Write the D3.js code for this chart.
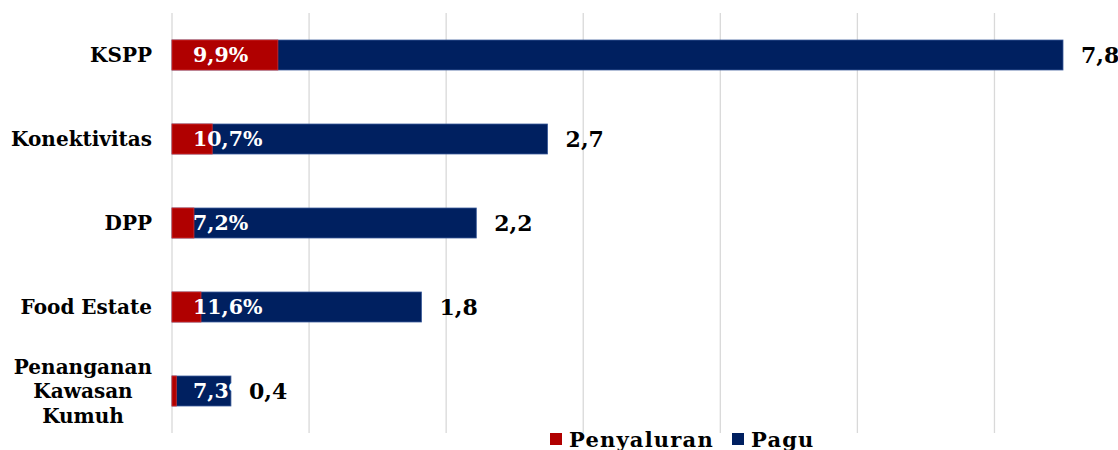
<!DOCTYPE html>
<html>
<head>
<meta charset="utf-8">
<script src="https://cdn.jsdelivr.net/npm/d3@7"></script>
<style>
  html, body { margin: 0; padding: 0; background: #fff; }
  svg { display: block; }
  text { font-family: Georgia, "DejaVu Serif", "Liberation Serif", serif; font-weight: bold; }
</style>
</head>
<body>
<svg id="chart" width="1118" height="450"></svg>
<script>
// Program names (lines of each label), total budget (Pagu, triliun) and disbursement share (%)
const categories = ["KSPP", "Konektivitas", "DPP", "Food Estate", "Penanganan Kawasan Kumuh"];
const labelLines = [["KSPP"], ["Konektivitas"], ["DPP"], ["Food Estate"], ["Penanganan", "Kawasan", "Kumuh"]];
const pagu = [7.8, 2.74, 2.22, 1.82, 0.43];
const penyaluranPct = [9.9, 10.7, 7.2, 11.6, 7.3];
const xTicks = [0, 1, 2, 3, 4, 5, 6];
const seriesNames = ["Penyaluran", "Pagu"];

const colors = { Penyaluran: "#B00000", Pagu: "#002060" };

// Indonesian number style: decimal comma
const fmtNum = d => d3.format(".1f")(d).replace(".", ",");

const svg = d3.select("#chart");
const plot = { left: 172, right: 1063, top: 13, bottom: 433 };

// Axis maximum is fixed at 6.5; longer bars are cut at the plot edge.
const x = d3.scaleLinear().domain([0, 6.5]).range([plot.left, plot.right]).clamp(true);
const y = d3.scaleBand().domain(categories).range([plot.top, plot.bottom])
  .paddingInner(0.643).paddingOuter(0.3215);

const rows = categories.map((c, i) => ({
  cat: c,
  lines: labelLines[i],
  pagu: pagu[i],
  pct: penyaluranPct[i],
  salur: pagu[i] * penyaluranPct[i] / 100
}));

// Vertical gridlines
svg.append("g")
  .selectAll("line")
  .data(xTicks)
  .join("line")
  .attr("x1", d => x(d)).attr("x2", d => x(d))
  .attr("y1", plot.top).attr("y2", plot.bottom)
  .attr("stroke", "#d9d9d9").attr("stroke-width", 1.3);

// Pagu bars
svg.append("g")
  .selectAll("rect")
  .data(rows)
  .join("rect")
  .attr("x", x(0))
  .attr("y", d => y(d.cat))
  .attr("width", d => x(d.pagu) - x(0))
  .attr("height", y.bandwidth())
  .attr("fill", colors.Pagu)
  .attr("stroke", "#3b5b9a").attr("stroke-width", 0.8);

// Penyaluran bars
svg.append("g")
  .selectAll("rect")
  .data(rows)
  .join("rect")
  .attr("x", x(0))
  .attr("y", d => y(d.cat))
  .attr("width", d => x(d.salur) - x(0))
  .attr("height", y.bandwidth())
  .attr("fill", colors.Penyaluran)
  .attr("stroke", "#d03030").attr("stroke-width", 0.8);

// Disbursement share labels
svg.append("g")
  .selectAll("text")
  .data(rows)
  .join("text")
  .attr("x", x(0) + 21)
  .attr("y", d => y(d.cat) + y.bandwidth() / 2)
  .attr("dy", "0.36em")
  .attr("fill", "#fff")
  .attr("font-size", 20.5)
  .text(d => fmtNum(d.pct) + "%");

// Pagu value labels
svg.append("g")
  .selectAll("text")
  .data(rows)
  .join("text")
  .attr("x", d => x(d.pagu) + 18)
  .attr("y", d => y(d.cat) + y.bandwidth() / 2)
  .attr("dy", "0.38em")
  .attr("fill", "#000")
  .attr("font-size", 22)
  .text(d => fmtNum(d.pagu));

// Category labels
const catG = svg.append("g")
  .selectAll("text")
  .data(rows)
  .join("text")
  .attr("fill", "#000")
  .attr("font-size", 20)
  .attr("text-anchor", "end")
  .attr("x", 152)
  .attr("y", d => y(d.cat) + y.bandwidth() / 2);

catG.each(function(d) {
  const t = d3.select(this);
  const n = d.lines.length;
  const lh = 24.5;
  if (n === 1) {
    t.append("tspan").attr("x", 152).attr("dy", "0.36em").text(d.lines[0]);
  } else {
    t.attr("text-anchor", "middle");
    d.lines.forEach((ln, j) => {
      t.append("tspan")
        .attr("x", 83)
        .attr("y", y(d.cat) + y.bandwidth() / 2 + (j - (n - 1) / 2) * lh)
        .attr("dy", "0.36em")
        .text(ln);
    });
  }
});

// Legend
const legend = svg.append("g").attr("transform", "translate(550,0)");
const legendOffsets = [0, 182];
seriesNames.forEach((s, i) => {
  const g = legend.append("g").attr("transform", `translate(${legendOffsets[i]},0)`);
  g.append("rect").attr("x", 0).attr("y", 433).attr("width", 12).attr("height", 12)
    .attr("fill", colors[s]);
  g.append("text").attr("x", 19).attr("y", 447).attr("font-size", 21)
    .attr("letter-spacing", 1.2)
    .attr("fill", "#000").text(s);
});
</script>
</body>
</html>
